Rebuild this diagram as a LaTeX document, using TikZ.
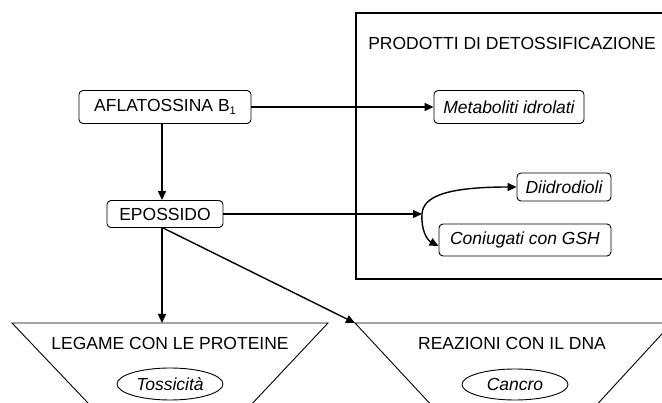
\documentclass[tikz,border=0pt]{standalone}
\usepackage{fontspec}
\setmainfont{Liberation Sans}
\usetikzlibrary{arrows.meta,shapes.geometric}
\begin{document}
\begin{tikzpicture}[x=1pt,y=-1pt,
  txt/.style={font=\fontsize{17.5}{20}\selectfont,inner sep=0pt},
  box/.style={txt,draw,rounded corners=4pt,line width=0.9pt},
  ibox/.style={box,font=\fontsize{17.5}{20}\selectfont\itshape},
  oval/.style={txt,draw,ellipse,line width=0.9pt,font=\fontsize{17.5}{20}\selectfont\itshape},
  arr/.style={line width=1.4pt,-{Triangle[length=9pt,width=8pt]}},
  frame/.style={line width=1.3pt},
  trap/.style={line width=0.9pt}]
\clip (0,0) rectangle (662,403);
% detox frame
\draw[frame] (700,13) -- (356,13) -- (356,279) -- (700,279);
\node[txt] (title) at (512,43) {PRODOTTI DI DETOSSIFICAZIONE};
% boxes
\node[box,minimum width=172pt,minimum height=33pt] (afla) at (165,107) {AFLATOSSINA B\raisebox{-0.35ex}{\fontsize{11}{12}\selectfont 1}};
\node[box,minimum width=116pt,minimum height=27pt] (epo) at (165,214) {EPOSSIDO};
\node[ibox,minimum width=150pt,minimum height=33pt] (meta) at (509,107) {Metaboliti idrolati};
\node[ibox,minimum width=94pt,minimum height=28pt] (diid) at (564,187) {Diidrodioli};
\node[ibox,minimum width=172pt,minimum height=32pt] (coni) at (525,240) {Coniugati con GSH};
% trapezoids
\coordinate (t1l) at (12,323);
\coordinate (t1r) at (328,323);
\coordinate (t1top) at (162,323);
\coordinate (t2l) at (355,323);
\coordinate (t2r) at (672,323);
\draw[trap] (107,423) -- (t1l) -- (t1r) -- (234,423);
\draw[trap] (448,423) -- (t2l) -- (t2r) -- (580,423);
\node[txt] (leg) at (170,343) {LEGAME CON LE PROTEINE};
\node[txt] (rea) at (512,343) {REAZIONI CON IL DNA};
\node[oval,minimum width=106pt,minimum height=32pt] (tox) at (170,384) {Tossicità};
\node[oval,minimum width=106pt,minimum height=31pt] (can) at (515,384.5) {Cancro};
% connectors
\coordinate (j) at (422,214);
\draw[arr] (afla) -- (meta);
\draw[arr] ([xshift=-3pt]afla.south) -- ([xshift=-3pt]epo.north);
\draw[arr] (epo) -- (j);
\draw[arr] (j) .. controls (423,197) and (445,187) .. (diid.west);
\draw[arr] (j) .. controls (421,230) and (427,240) .. ([yshift=-6pt]coni.west);
\draw[arr] ([xshift=-3pt]epo.south) -- (t1top);
\draw[arr] ([xshift=-2pt]epo.south) -- (t2l);
\end{tikzpicture}
\end{document}
